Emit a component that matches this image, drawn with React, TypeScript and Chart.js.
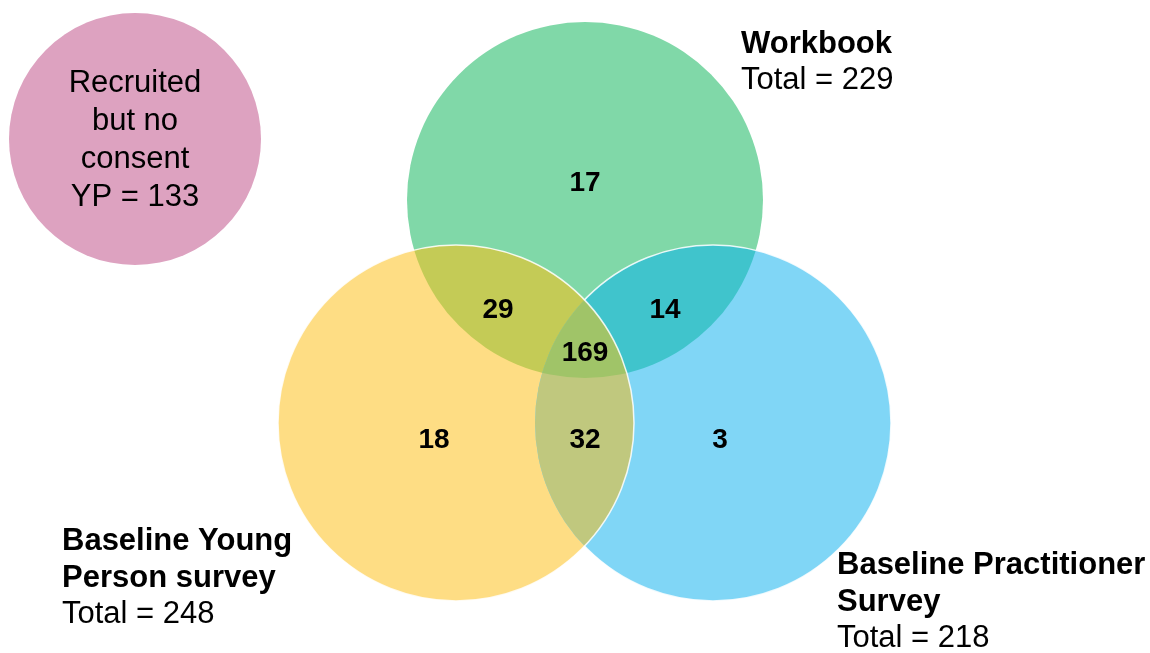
import React, { useEffect, useRef } from "react";
import { Chart, registerables } from "chart.js";

Chart.register(...registerables);

// ---- data ----
const setNames = ["Workbook", "Baseline Young Person survey", "Baseline Practitioner Survey"];
const setTotals = [229, 248, 218];
const regionNames = ["Workbook only", "Young Person only", "Practitioner only", "Workbook & YP", "Workbook & Practitioner", "YP & Practitioner", "All three"];
const regionCounts = [17, 18, 3, 29, 14, 32, 169];
const noConsentLabel = ["Recruited", "but no", "consent"];
const noConsentCount = 133;

// ---- layout (axis units) ----
const AXIS_W = 1150;
const AXIS_H = 653;
// circles: workbook, young person, practitioner, no consent
const circleCX = [585, 456, 713, 135];
const circleCY = [200, 423, 423, 139];
const circleR = [178, 178, 178, 126];
const regionX = [585, 434, 720, 498, 665, 585, 585];
const regionY = [183, 440, 440, 310, 310, 440, 353];

const colWork = "#80D8A8";
const colYP = "#FEDD84";
const colPr = "#80D6F6";
const colPink = "#DDA2C0";
const colWY = "#C4CB56";
const colWP = "#40C4CC";
const colYPr = "#C0C87E";
const colAll = "#A0C468";

const FONT = "'Liberation Sans', Arial, Helvetica, sans-serif";

const vennPlugin = {
  id: "venn",
  beforeDatasetsDraw(chart: any) {
    const ctx: CanvasRenderingContext2D = chart.ctx;
    const xs = chart.scales.x;
    const ys = chart.scales.y;
    const px = (v: number) => xs.getPixelForValue(v);
    const py = (v: number) => ys.getPixelForValue(v);
    const pr = (i: number) => Math.abs(px(circleCX[i] + circleR[i]) - px(circleCX[i]));
    const circ = (i: number) => {
      ctx.beginPath();
      ctx.arc(px(circleCX[i]), py(circleCY[i]), pr(i), 0, Math.PI * 2);
      ctx.closePath();
    };
    const fillCircle = (i: number, c: string, clips: number[]) => {
      ctx.save();
      for (const k of clips) {
        circ(k);
        ctx.clip();
      }
      circ(i);
      ctx.fillStyle = c;
      ctx.fill();
      ctx.restore();
    };
    // single sets
    fillCircle(3, colPink, []);
    fillCircle(0, colWork, []);
    fillCircle(1, colYP, []);
    fillCircle(2, colPr, []);
    // pairs
    fillCircle(1, colWY, [0]);
    fillCircle(2, colWP, [0]);
    fillCircle(2, colYPr, [1]);
    // triple
    fillCircle(2, colAll, [0, 1]);

    // white edges: practitioner outside YP, then YP full
    ctx.save();
    ctx.beginPath();
    ctx.rect(0, 0, chart.width, chart.height);
    ctx.arc(px(circleCX[1]), py(circleCY[1]), pr(1), 0, Math.PI * 2);
    ctx.clip("evenodd");
    circ(2);
    ctx.strokeStyle = "rgba(255,255,255,0.85)";
    ctx.lineWidth = 1.5;
    ctx.stroke();
    ctx.restore();
    ctx.save();
    circ(1);
    ctx.strokeStyle = "rgba(255,255,255,0.85)";
    ctx.lineWidth = 1.5;
    ctx.stroke();
    ctx.restore();

    // region counts
    ctx.save();
    ctx.fillStyle = "#000";
    ctx.textAlign = "center";
    ctx.textBaseline = "middle";
    ctx.font = "bold 28px " + FONT;
    regionCounts.forEach((v, i) => {
      ctx.fillText(String(v), px(regionX[i]), py(regionY[i]));
    });

    // no consent circle text
    ctx.font = "31px " + FONT;
    const pinkLines = [...noConsentLabel, "YP = " + noConsentCount];
    pinkLines.forEach((t, i) => {
      ctx.fillText(t, px(circleCX[3]), py(83 + i * 38));
    });

    // set labels
    ctx.textAlign = "left";
    const drawLabel = (boldLines: string[], total: number, x: number, y0: number) => {
      ctx.font = "bold 31px " + FONT;
      boldLines.forEach((t, i) => ctx.fillText(t, px(x), py(y0 + i * 37)));
      ctx.font = "31px " + FONT;
      ctx.fillText("Total = " + total, px(x), py(y0 + boldLines.length * 37 - 1));
    };
    drawLabel([setNames[0]], setTotals[0], 741, 44);
    drawLabel(["Baseline Young", "Person survey"], setTotals[1], 62, 541);
    drawLabel(["Baseline Practitioner", "Survey"], setTotals[2], 837, 565);
    ctx.restore();
  },
};

export default function App() {
  const ref = useRef<HTMLCanvasElement | null>(null);
  useEffect(() => {
    document.body.style.margin = "0";
    const chart = new Chart(ref.current as HTMLCanvasElement, {
      type: "scatter",
      data: {
        datasets: [
          {
            label: "Regions",
            data: regionCounts.map((v, i) => ({ x: regionX[i], y: regionY[i] })),
            pointRadius: 0,
            pointHoverRadius: 0,
          },
        ],
      },
      options: {
        animation: false,
        responsive: false,
        maintainAspectRatio: false,
        layout: { padding: 0 },
        plugins: { legend: { display: false }, tooltip: { enabled: false } },
        scales: {
          x: { type: "linear", min: 0, max: AXIS_W, display: false },
          y: { type: "linear", min: 0, max: AXIS_H, reverse: true, display: false },
        },
      },
      plugins: [vennPlugin],
    } as any);
    return () => chart.destroy();
  }, []);
  return (
    <div style={{ width: 1150, height: 653, background: "#fff" }}>
      <canvas ref={ref} width={1150} height={653} style={{ display: "block" }} />
    </div>
  );
}
